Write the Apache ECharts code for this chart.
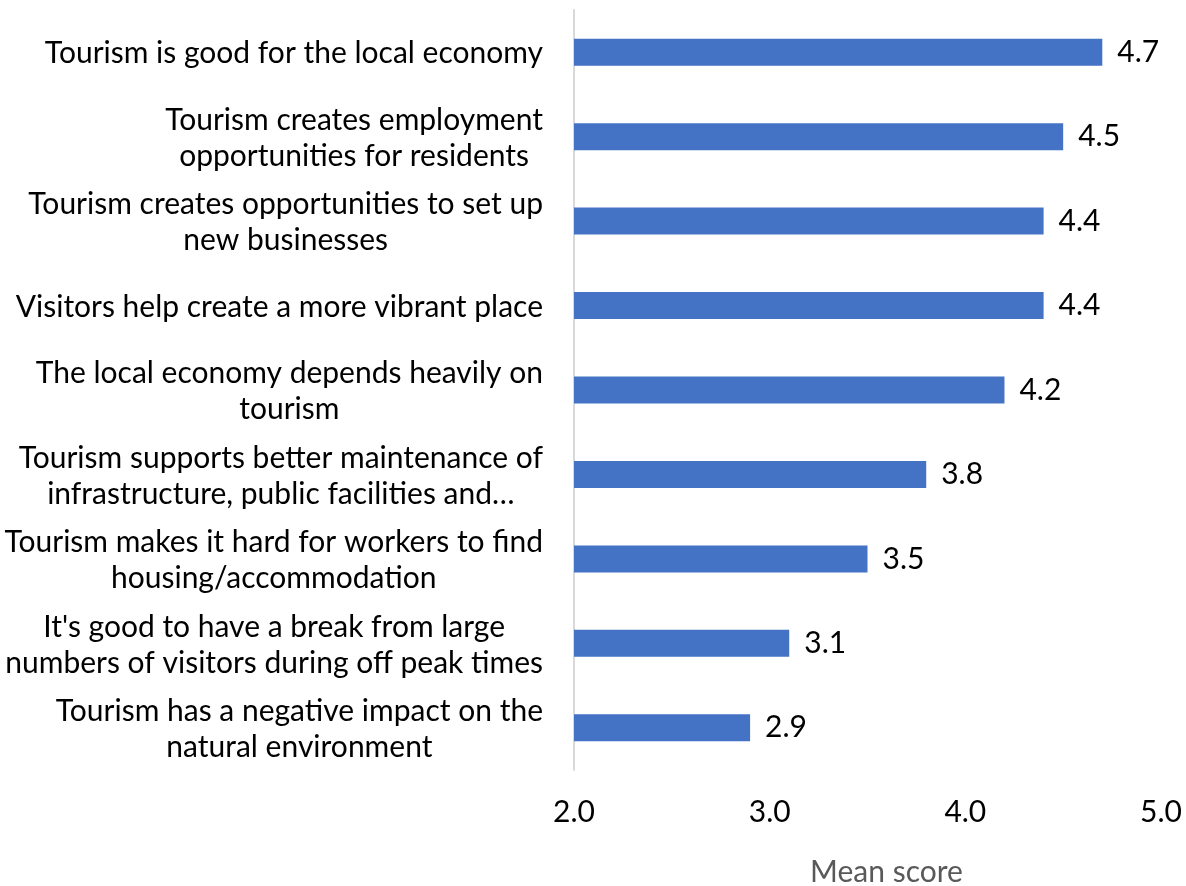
<!DOCTYPE html>
<html>
<head>
<meta charset="utf-8">
<script src="https://cdn.jsdelivr.net/npm/echarts@6/dist/echarts.min.js"></script>
<style>
  html, body { margin: 0; padding: 0; background: #ffffff; }
  #chart { width: 1186px; height: 886px; }
</style>
</head>
<body>
<div id="chart"></div>
<script>
// Statements, top to bottom, each split into the lines shown on the axis
const statements = [
  ['Tourism is good for the local economy'],
  ['Tourism creates employment', 'opportunities for residents'],
  ['Tourism creates opportunities to set up', 'new businesses'],
  ['Visitors help create a more vibrant place'],
  ['The local economy depends heavily on', 'tourism'],
  ['Tourism supports better maintenance of', 'infrastructure, public facilities and…'],
  ['Tourism makes it hard for workers to find', 'housing/accommodation'],
  ["It's good to have a break from large", 'numbers of visitors during off peak times'],
  ['Tourism has a negative impact on the', 'natural environment']
];
const meanScores = [4.7, 4.5, 4.4, 4.4, 4.2, 3.8, 3.5, 3.1, 2.9];
const scaleTicks = [2.0, 3.0, 4.0, 5.0];

const FONT = 'Lato';
const SIZE = 30;
const categories = statements.map(lines => lines.join('\n'));

const chart = echarts.init(document.getElementById('chart'), null, { renderer: 'canvas' });
chart.setOption({
  animation: false,
  backgroundColor: '#ffffff',
  grid: { left: 574, right: 25, top: 10, bottom: 116, containLabel: false, outerBoundsMode: 'none' },
  yAxis: {
    type: 'category',
    data: categories,
    inverse: true,
    axisLine: { show: true, lineStyle: { color: '#d9d9d9', width: 2 } },
    axisTick: { show: false },
    axisLabel: {
      margin: 31,
      align: 'right',
      padding: [3, 0, 0, 0],
      // each line centred inside the right-aligned label block
      formatter: v => v.split('\n').map(l => '{c|' + l + '}').join('\n'),
      rich: {
        c: { align: 'center', fontFamily: FONT, fontSize: SIZE, lineHeight: 36, color: '#000000' }
      }
    }
  },
  xAxis: {
    type: 'value',
    min: scaleTicks[0],
    max: scaleTicks[scaleTicks.length - 1],
    interval: 1,
    axisLine: { show: false },
    axisTick: { show: false },
    splitLine: { show: false },
    axisLabel: {
      margin: 27,
      fontFamily: FONT,
      fontSize: SIZE,
      color: '#000000',
      formatter: v => v.toFixed(1)
    },
    name: 'Mean score',
    nameLocation: 'middle',
    nameGap: 87,
    nameTextStyle: { fontFamily: FONT, fontSize: SIZE, color: '#595959', padding: [0, 0, 0, 38] }
  },
  series: [{
    type: 'bar',
    data: meanScores,
    barWidth: 27,
    itemStyle: { color: '#4472c4' },
    label: {
      show: true,
      position: 'right',
      distance: 15,
      padding: [3, 0, 0, 0],
      fontFamily: FONT,
      fontSize: SIZE,
      color: '#000000',
      formatter: p => p.value.toFixed(1)
    }
  }]
});
</script>
</body>
</html>
